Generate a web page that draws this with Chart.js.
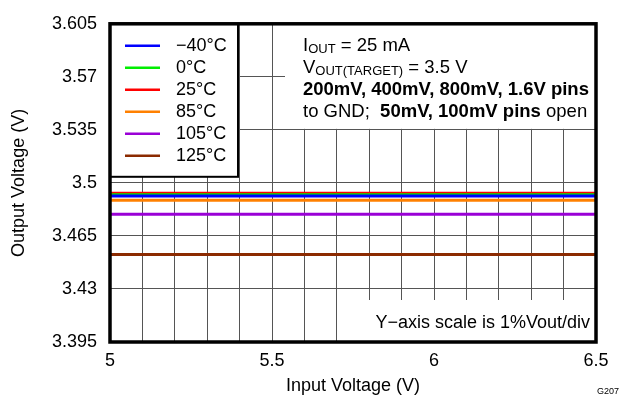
<!DOCTYPE html>
<html>
<head>
<meta charset="utf-8">
<script src="https://cdn.jsdelivr.net/npm/chart.js@4.4.1/dist/chart.umd.min.js"></script>
<style>
  html, body { margin: 0; padding: 0; background: #fff; }
  #wrap { width: 627px; height: 398px; }
</style>
</head>
<body>
<div id="wrap"><canvas id="c" width="627" height="398"></canvas></div>
<script>
// ── Data ────────────────────────────────────────────────────
const inputV = [5.0, 5.5, 6.0, 6.5];

const tempLabels = ['\u221240°C', '0°C', '25°C', '85°C', '105°C', '125°C'];
const tempColors = ['#0000ff', '#00ee00', '#ff0000', '#ff8000', '#9a00d6', '#8b2a00'];

const vout_m40 = [3.4913, 3.4913, 3.4913, 3.4913];
const vout_0   = [3.4921, 3.4921, 3.4921, 3.4921];
const vout_25  = [3.4932, 3.4932, 3.4932, 3.4932];
const vout_85  = [3.4885, 3.4885, 3.4885, 3.4885];
const vout_105 = [3.4793, 3.4793, 3.4793, 3.4793];
const vout_125 = [3.4527, 3.4527, 3.4527, 3.4527];

const xTicks = [5.0, 5.1, 5.2, 5.3, 5.4, 5.5, 5.6, 5.7, 5.8, 5.9, 6.0, 6.1, 6.2, 6.3, 6.4, 6.5];
const xLabelTicks = [5, 5.5, 6, 6.5];
const yTicks = [3.395, 3.43, 3.465, 3.5, 3.535, 3.57, 3.605];

const FONT = '"Liberation Sans", Arial, sans-serif';
const GRID = '#555555';

const seriesValues = [vout_m40, vout_0, vout_25, vout_85, vout_105, vout_125];

const datasets = seriesValues.map((vals, i) => ({
    label: tempLabels[i],
    data: inputV.map((x, j) => ({ x, y: vals[j] })),
    borderColor: tempColors[i],
    borderWidth: 3,
    pointRadius: 0,
    fill: false,
    tension: 0,
}));

// ── Overlay: legend box, note boxes, frame ─────────────────
function drawRuns(ctx, x, y, runs) {
    ctx.textBaseline = 'middle';
    ctx.textAlign = 'left';
    for (const r of runs) {
        ctx.font = r.font;
        ctx.fillText(r.t, x, y + (r.dy || 0));
        x += ctx.measureText(r.t).width;
    }
}

const overlay = {
    id: 'overlay',
    beforeDatasetsDraw(chart) {
        const ctx = chart.ctx;
        const a = chart.chartArea;
        const ys = chart.scales.y;
        ctx.save();
        ctx.fillStyle = '#fff';
        // top-right note box (stops just above the 3.535 grid line)
        const noteBottom = ys.getPixelForValue(3.535) - 1;
        ctx.fillRect(285, a.top, a.right - 285, noteBottom - a.top);
        // bottom-right note box
        ctx.fillRect(350, 300, a.right - 350, a.bottom - 300);
        // legend box
        ctx.fillRect(a.left, a.top, 128, 153);
        ctx.strokeStyle = '#000';
        ctx.lineWidth = 2;
        ctx.strokeRect(a.left, a.top, 128, 153);
        ctx.restore();
    },
    afterDatasetsDraw(chart) {
        const ctx = chart.ctx;
        const a = chart.chartArea;
        ctx.save();

        // plot frame
        ctx.strokeStyle = '#000';
        ctx.lineWidth = 3.5;
        ctx.strokeRect(a.left, a.top, a.right - a.left, a.bottom - a.top);

        // legend entries
        chart.data.datasets.forEach((ds, i) => {
            const y = a.top + 22 + i * 22;
            ctx.strokeStyle = ds.borderColor;
            ctx.lineWidth = 2.5;
            ctx.beginPath();
            ctx.moveTo(a.left + 15, y);
            ctx.lineTo(a.left + 50, y);
            ctx.stroke();
            ctx.fillStyle = '#000';
            ctx.font = '18px ' + FONT;
            ctx.textAlign = 'left';
            ctx.textBaseline = 'middle';
            ctx.fillText(ds.label, a.left + 66, y);
        });

        // top-right note
        ctx.fillStyle = '#000';
        const reg = '18.5px ' + FONT;
        const bold = 'bold 18.5px ' + FONT;
        const sub = '13px ' + FONT;
        const nx = 303;
        drawRuns(ctx, nx, a.top + 22, [
            { t: 'I', font: reg }, { t: 'OUT', font: sub, dy: 4 }, { t: ' = 25 mA', font: reg }
        ]);
        drawRuns(ctx, nx, a.top + 44, [
            { t: 'V', font: reg }, { t: 'OUT(TARGET)', font: sub, dy: 4 }, { t: ' = 3.5 V', font: reg }
        ]);
        drawRuns(ctx, nx, a.top + 66, [
            { t: '200mV, 400mV, 800mV, 1.6V pins', font: bold }
        ]);
        drawRuns(ctx, nx, a.top + 88, [
            { t: 'to GND;  ', font: reg }, { t: '50mV, 100mV pins', font: bold }, { t: ' open', font: reg }
        ]);

        // bottom-right note
        ctx.font = '18px ' + FONT;
        ctx.textAlign = 'right';
        ctx.textBaseline = 'middle';
        ctx.fillText('Y\u2212axis scale is 1%Vout/div', a.right - 6, 323);

        // figure id
        ctx.font = '9px ' + FONT;
        ctx.fillText('G207', 619, 392);
        ctx.restore();
    }
};

new Chart(document.getElementById('c'), {
    type: 'line',
    data: { datasets },
    options: {
        responsive: false,
        animation: false,
        devicePixelRatio: 1,
        layout: { padding: { top: 13, right: 31, bottom: 0, left: 0 } },
        plugins: {
            legend: { display: false },
            tooltip: { enabled: false },
        },
        scales: {
            x: {
                type: 'linear',
                min: 5,
                max: 6.5,
                afterBuildTicks: s => { s.ticks = xTicks.map(v => ({ value: v })); },
                afterFit: s => { s.height = 56; },
                ticks: {
                    autoSkip: false,
                    maxRotation: 0,
                    padding: 8,
                    color: '#000',
                    font: { family: FONT, size: 18 },
                    callback: v => xLabelTicks.some(t => Math.abs(t - v) < 1e-6) ? String(+v.toFixed(1)) : '',
                },
                grid: { color: GRID, lineWidth: 1, drawTicks: false },
                border: { display: false },
                title: {
                    display: true,
                    text: 'Input Voltage (V)',
                    color: '#000',
                    font: { family: FONT, size: 18 },
                    padding: { top: 0, bottom: 1 },
                },
            },
            y: {
                min: 3.395,
                max: 3.605,
                afterBuildTicks: s => { s.ticks = yTicks.map(v => ({ value: v })); },
                afterFit: s => { s.width = 110; },
                ticks: {
                    padding: 13,
                    color: '#000',
                    font: { family: FONT, size: 18 },
                    callback: v => String(+v.toFixed(3)),
                },
                grid: { color: GRID, lineWidth: 1, drawTicks: false },
                border: { display: false },
                title: {
                    display: true,
                    text: 'Output Voltage (V)',
                    color: '#000',
                    font: { family: FONT, size: 18 },
                    padding: { top: 8, bottom: 0 },
                },
            },
        },
    },
    plugins: [overlay],
});
</script>
</body>
</html>
